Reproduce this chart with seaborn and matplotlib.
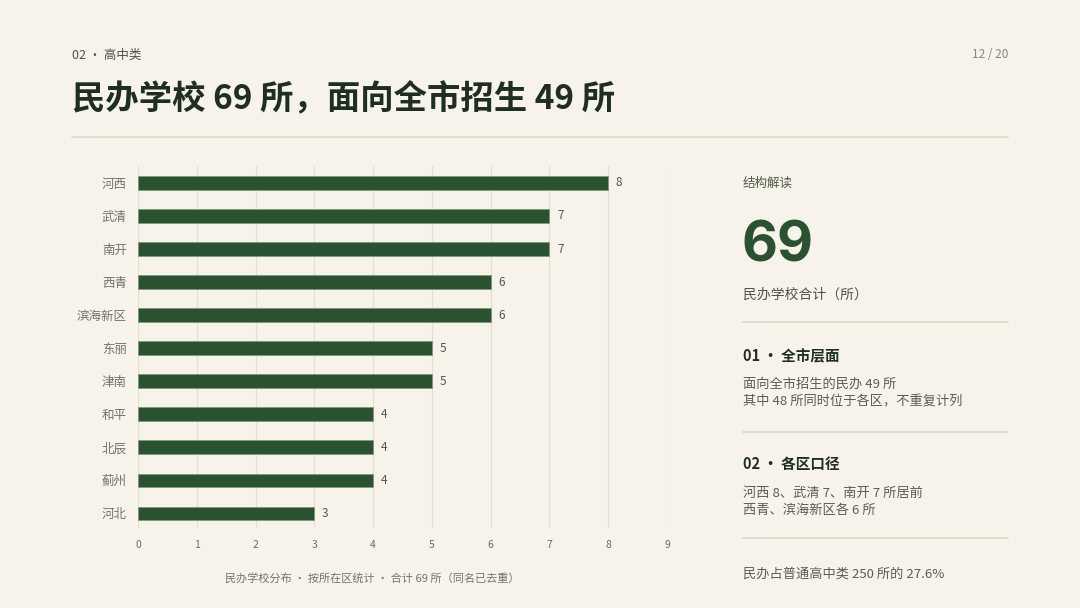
import matplotlib
matplotlib.use('Agg')
import matplotlib.pyplot as plt
import pandas as pd
import seaborn as sns

# 数据
districts = ['河西', '武清', '南开', '西青', '滨海新区', '东丽', '津南', '和平', '北辰', '蓟州', '河北']
counts = [8, 7, 7, 6, 6, 5, 5, 4, 4, 4, 3]
x_ticks = [0, 1, 2, 3, 4, 5, 6, 7, 8, 9]

df = pd.DataFrame({'district': districts, 'count': counts})

bg = '#F7F3EA'
green = '#2A5230'
grey = '#6E6A62'
dark = '#1E2E22'
rule = '#DED8CB'

sns.set_theme(style='white')
plt.rcParams['font.family'] = ['Noto Sans CJK SC', 'DejaVu Sans']

fig = plt.figure(figsize=(10.8, 6.08), dpi=100, facecolor=bg)
ax = fig.add_axes([0.1278, 0.1316, 0.4898, 0.5946])
ax.set_facecolor(bg)

sns.barplot(data=df, x='count', y='district', orient='h', color=green,
            width=0.4, edgecolor='#7C9A78', linewidth=0.6, saturation=1, ax=ax)

ax.set_xlim(0, 9)
ax.set_ylim(10.45, -0.5)
ax.set_xticks(x_ticks)
ax.set_xticklabels([str(t) for t in x_ticks], fontsize=7.5, color=grey)
ax.tick_params(axis='y', labelsize=9, colors='#777269', length=0, pad=8)
ax.tick_params(axis='x', length=0, pad=9)
ax.set_xlabel('')
ax.set_ylabel('')
ax.grid(axis='x', color='#E6E0D3', linewidth=0.9)
ax.set_axisbelow(True)
for s in ax.spines.values():
    s.set_visible(False)

for i, v in enumerate(counts):
    ax.text(v + 0.13, i, str(v), va='center', ha='left', fontsize=8.5, color='#555550')

# 页眉
fig.text(72 / 1080, 1 - 55 / 608, '02 · 高中类', fontsize=9, color='#4F4F48', va='center')
fig.text(1008 / 1080, 1 - 55 / 608, '12 / 20', fontsize=8.5, color='#8A857B', va='center', ha='right')
fig.text(72 / 1080, 1 - 100 / 608, '民办学校 69 所，面向全市招生 49 所', fontsize=24,
         fontweight='bold', color=dark, va='center')
fig.add_artist(plt.Line2D([72 / 1080, 1008 / 1080], [1 - 137 / 608] * 2, color=rule, lw=1.2))

# 脚注
fig.text(372 / 1080, 1 - 578 / 608, '民办学校分布 · 按所在区统计 · 合计 69 所（同名已去重）',
         fontsize=8, color='#77736A', va='center', ha='center')

# 右侧说明
px = 743 / 1080
fig.text(px, 1 - 183 / 608, '结构解读', fontsize=9, color='#4A5A48', va='center')
fig.text(px - 0.001, 1 - 247 / 608, '69', fontsize=40, fontweight='bold', color=green,
         va='center', family=['Inter', 'DejaVu Sans'])
fig.text(px, 1 - 295 / 608, '民办学校合计（所）', fontsize=10, color='#55524B', va='center')
for yy in [322, 432, 538]:
    fig.add_artist(plt.Line2D([px, 1008 / 1080], [1 - yy / 608] * 2, color=rule, lw=1.2))

fig.text(px, 1 - 356 / 608, '01 · 全市层面', fontsize=10.5, fontweight='bold', color=dark, va='center')
fig.text(px, 1 - 384 / 608, '面向全市招生的民办 49 所', fontsize=9.5, color='#5F5B53', va='center')
fig.text(px, 1 - 402 / 608, '其中 48 所同时位于各区，不重复计列', fontsize=9.5, color='#5F5B53', va='center')

fig.text(px, 1 - 464 / 608, '02 · 各区口径', fontsize=10.5, fontweight='bold', color=dark, va='center')
fig.text(px, 1 - 493 / 608, '河西 8、武清 7、南开 7 所居前', fontsize=9.5, color='#5F5B53', va='center')
fig.text(px, 1 - 510 / 608, '西青、滨海新区各 6 所', fontsize=9.5, color='#5F5B53', va='center')

fig.text(px, 1 - 574 / 608, '民办占普通高中类 250 所的 27.6%', fontsize=9.5, color='#5F5B53', va='center')

fig.savefig('out.png', dpi=100, facecolor=bg)
